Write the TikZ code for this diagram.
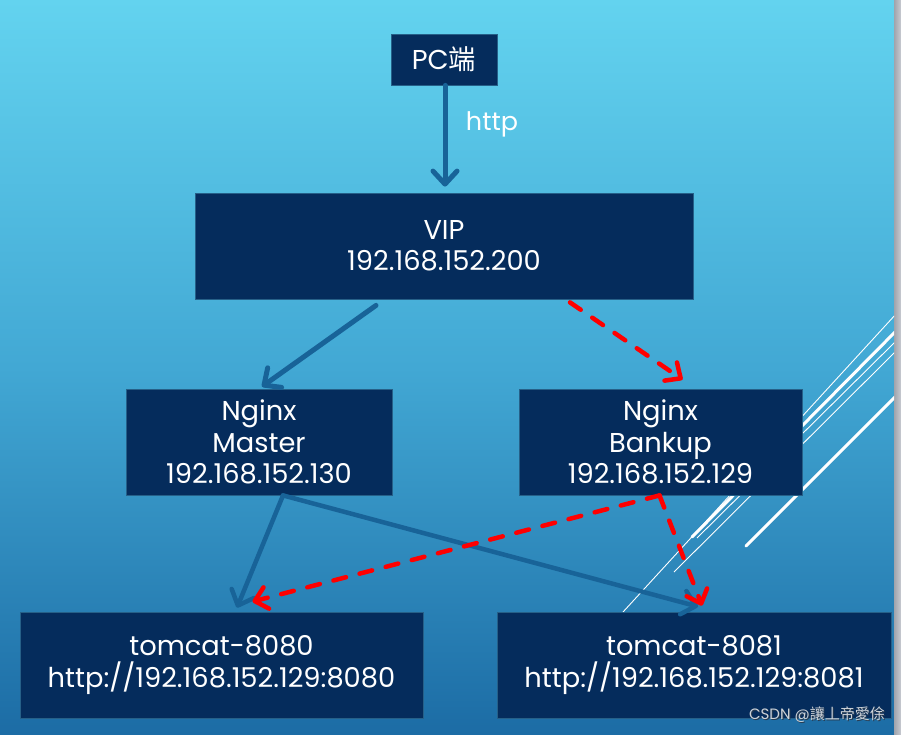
\documentclass[tikz,border=0pt]{standalone}
\usepackage{fontspec}
\setmainfont{Poppins}
\newfontfamily\cjk{Noto Sans CJK SC}
\usetikzlibrary{arrows.meta}
\definecolor{bgtop}{RGB}{99,211,239}
\definecolor{bgmid}{RGB}{66,168,212}
\definecolor{bgbot}{RGB}{28,108,165}
\definecolor{boxfill}{RGB}{5,44,92}
\definecolor{boxline}{RGB}{38,96,136}
\definecolor{flowblue}{RGB}{24,99,152}
\definecolor{flowred}{RGB}{255,0,0}
\definecolor{wmark}{RGB}{205,210,216}
\definecolor{wshadow}{RGB}{40,60,80}
\definecolor{edgelight}{RGB}{200,203,210}
\definecolor{edgedark}{RGB}{160,164,172}
\begin{document}
\begin{tikzpicture}[x=1pt,y=-1pt,
  box/.style={draw=boxline, line width=0.8pt, fill=boxfill, text=white, inner sep=0pt,
    align=center, font=\fontsize{27.3}{31.3}\selectfont},
  blueflow/.style={draw=flowblue, line width=5pt, line cap=round,
    -{Straight Barb[length=13pt,width=24pt,round]}},
  blueflowthin/.style={blueflow, line width=4.5pt},
  redflow/.style={draw=flowred, line width=4.5pt, line cap=round,
    dash pattern=on 13pt off 14pt,
    -{Straight Barb[length=12pt,width=22pt,round]}},
  thinline/.style={draw=white, line width=0.9pt},
  thickline/.style={draw=white, line width=3pt, line cap=round},
  lbl/.style={text=white, font=\fontsize{25.5}{30}\selectfont, inner sep=0pt}
]
\useasboundingbox (0,0) rectangle (901,734);
% background
\shade[top color=bgtop, bottom color=bgbot, middle color=bgmid] (0,0) rectangle (894,734);
\shade[left color=edgedark, right color=edgelight] (894,0) rectangle (901,734);

% decorative white lines
\begin{scope}
\clip (0,0) rectangle (894,734);
\draw[thinline] (896,314) -- (623,612);
\draw[thickline] (896,331) -- (692,537);
\draw[thinline] (896,341) -- (697,538);
\draw[thinline] (896,351) -- (674,572);
\draw[thickline] (896,396) -- (746,546);
\end{scope}

% nodes
\node[box, minimum width=106pt, minimum height=51pt] (pc) at (444,59.5) {PC{\cjk 端}};
\node[box, minimum width=498pt, minimum height=106pt] (vip) at (444,246) {VIP\\192.168.152.200};
\node[box, minimum width=266pt, minimum height=106pt] (master) at (259,442) {Nginx\\Master\\192.168.152.130};
\node[box, minimum width=283pt, minimum height=106pt] (bankup) at (660.5,442) {Nginx\\Bankup\\192.168.152.129};
\node[box, minimum width=403pt, minimum height=106pt] (t8080) at (221.5,665) {tomcat-8080\\http://192.168.152.129:8080};
\node[box, minimum width=394pt, minimum height=106pt] (t8081) at (694,665) {tomcat-8081\\http://192.168.152.129:8081};

% connectors
\draw[blueflow] ([xshift=1pt]pc.south) -- ([shift={(1,-6)}]vip.north);
\node[lbl] (http) at (492,124) {http};
\draw[blueflow] ([shift={(-68,6)}]vip.south) -- ([shift={(3,-2)}]master.north);
\draw[blueflowthin] ([xshift=24pt]master.south) -- ([shift={(15.5,-4)}]t8080.north);
\draw[blueflowthin] ([xshift=24pt]master.south) -- ([shift={(4,-5)}]t8081.north);
\draw[redflow] ([shift={(126,3)}]vip.south) -- ([shift={(22,-9)}]bankup.north);
\draw[redflow] ([xshift=-1pt]bankup.south) -- ([shift={(31,-10)}]t8080.north);
\draw[redflow] ([xshift=-1pt]bankup.south) -- ([shift={(8,-6)}]t8081.north);

% watermark
\node[anchor=east, text=wshadow, inner sep=0pt, font=\fontsize{15}{18}\selectfont] (wmshadow) at (886,716) {CSDN @{\cjk 讓丄帝愛俆}};
\node[anchor=east, text=wmark, inner sep=0pt, font=\fontsize{15}{18}\selectfont] (wm) at (885,715) {CSDN @{\cjk 讓丄帝愛俆}};
\end{tikzpicture}
\end{document}
